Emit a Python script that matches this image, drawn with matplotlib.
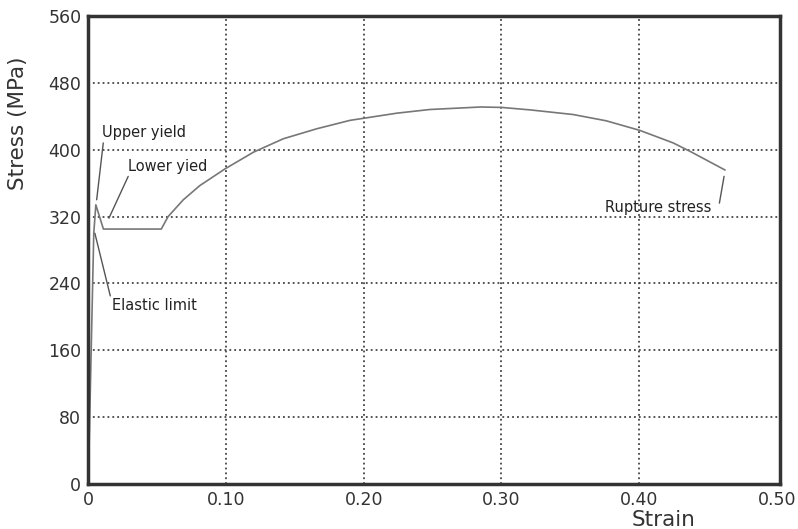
import matplotlib.pyplot as plt

# stress-strain curve
strain = [0, 0.004, 0.0055, 0.011, 0.053, 0.058, 0.069, 0.081, 0.0993, 0.12,
          0.1416, 0.166, 0.19, 0.224, 0.248, 0.285, 0.300, 0.321, 0.352,
          0.376, 0.4005, 0.4247, 0.438, 0.4622]
stress = [0, 300, 334, 305, 305, 320, 340, 357, 377, 397,
          413, 425, 435, 443.6, 448, 451, 450.5, 447.5, 442,
          434.5, 423, 408, 397, 375.7]

x_ticks = [0, 0.1, 0.2, 0.3, 0.4, 0.5]
x_tick_labels = ["0", "0.10", "0.20", "0.30", "0.40", "0.50"]
y_ticks = [0, 80, 160, 240, 320, 400, 480, 560]

# annotations: label, text anchor (left, centre), leader start, leader end
notes = ["Upper yield", "Lower yied", "Elastic limit", "Rupture stress"]
note_text_xy = [(0.0099, 421), (0.0288, 380), (0.0172, 214), (0.375, 331)]
note_from = [(0.0109, 408), (0.029, 368), (0.016, 225), (0.4582, 336)]
note_to = [(0.0061, 340), (0.015, 318), (0.0048, 300), (0.4616, 368)]

fig = plt.figure(figsize=(7.98, 5.29), dpi=100)
ax = fig.add_axes([0.1106, 0.085, 0.867, 0.885])

ax.plot(strain, stress, color="#777777", linewidth=1.2)

for label, txy, p0, p1 in zip(notes, note_text_xy, note_from, note_to):
    ax.text(txy[0], txy[1], label, ha="left", va="center",
            fontsize=10.5, color="#222222")
    ax.annotate("", xy=p1, xytext=p0,
                arrowprops=dict(arrowstyle="-", color="#555555", lw=1.0,
                                shrinkA=0, shrinkB=0))

ax.set_xlim(0, 0.5023)
ax.set_ylim(0, 560)
ax.set_xticks(x_ticks)
ax.set_xticklabels(x_tick_labels)
ax.set_yticks(y_ticks)
ax.tick_params(length=0, labelsize=12.5, colors="#333333", pad=5)

ax.grid(True, color="#444444", linestyle=(0, (1, 1.7)), linewidth=1.3)
ax.set_axisbelow(True)
# no grid line next to the right frame in the original
ax.get_xgridlines()[-1].set_visible(False)

for sp in ax.spines.values():
    sp.set_linewidth(2.5)
    sp.set_color("#333333")

ax.set_xlabel("Strain", fontsize=15.5, color="#333333")
ax.xaxis.set_label_coords(0.832, -0.055)
ax.set_ylabel("Stress (MPa)", fontsize=15.5, color="#333333")
ax.yaxis.set_label_coords(-0.087, 0.771)

fig.savefig("out.png", dpi=100)
